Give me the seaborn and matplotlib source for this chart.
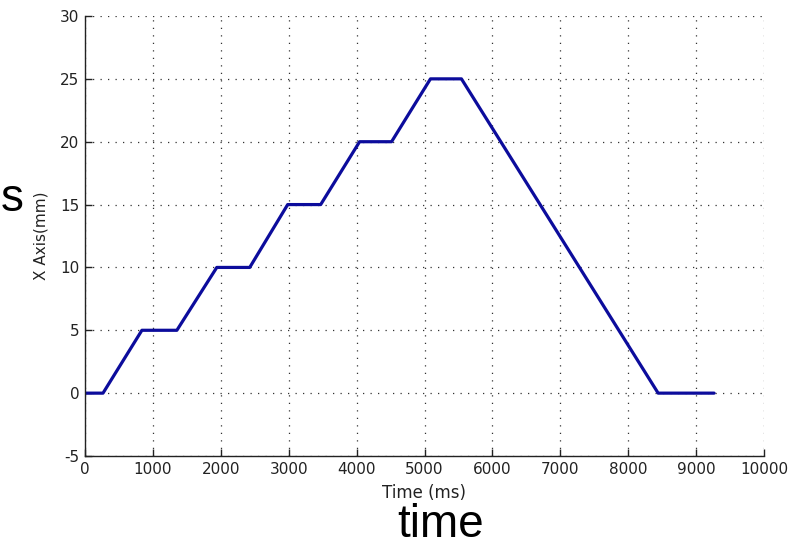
import matplotlib
matplotlib.use("Agg")
import matplotlib.pyplot as plt
import seaborn as sns
import pandas as pd

# data
time_ms = [0, 265, 838, 1353, 1941, 2426, 2985, 3471, 4044, 4515, 5088, 5544, 8441, 9265]
x_mm = [0, 0, 5, 5, 10, 10, 15, 15, 20, 20, 25, 25, 0, 0]
x_ticks = [0, 1000, 2000, 3000, 4000, 5000, 6000, 7000, 8000, 9000, 10000]
y_ticks = [-5, 0, 5, 10, 15, 20, 25, 30]

sns.set_style("white")
plt.rcParams['font.family'] = ['DejaVu Sans']
plt.rcParams['axes.unicode_minus'] = False

df = pd.DataFrame({"Time (ms)": time_ms, "X Axis(mm)": x_mm})

fig = plt.figure(figsize=(7.98, 5.47), dpi=100)
ax = fig.add_axes([85/798, 1-456/547, (764-85)/798, (456-16)/547])

sns.lineplot(data=df, x="Time (ms)", y="X Axis(mm)", ax=ax, color="#0c0c9c",
             linewidth=2.3, estimator=None, sort=False)

ax.set_xlim(0, 10000)
ax.set_ylim(-5, 30)
ax.set_xticks(x_ticks)
ax.set_yticks(y_ticks)
ax.grid(True, color="#333333", linestyle=(0, (1, 5)), linewidth=0.9)

for s in ["top", "right"]:
    ax.spines[s].set_visible(False)
for s in ["left", "bottom"]:
    ax.spines[s].set_color("#222222")
    ax.spines[s].set_linewidth(1.0)

ax.tick_params(axis="both", direction="in", length=5, width=1, colors="#222222",
               labelsize=11, pad=4, bottom=True, left=True)
ax.set_xlabel("Time (ms)", fontsize=12, color="#222222", labelpad=5)
ax.set_ylabel("X Axis(mm)", fontsize=11, color="#222222", labelpad=8)

fig.text(441/798, 1-537/547, "time", fontsize=33, ha="center", va="baseline",
         family="Liberation Sans", color="black")
fig.text(1/798, 1-211/547, "s", fontsize=33, ha="left", va="baseline",
         family="Liberation Sans", color="black")

fig.savefig("out.png", dpi=100)
